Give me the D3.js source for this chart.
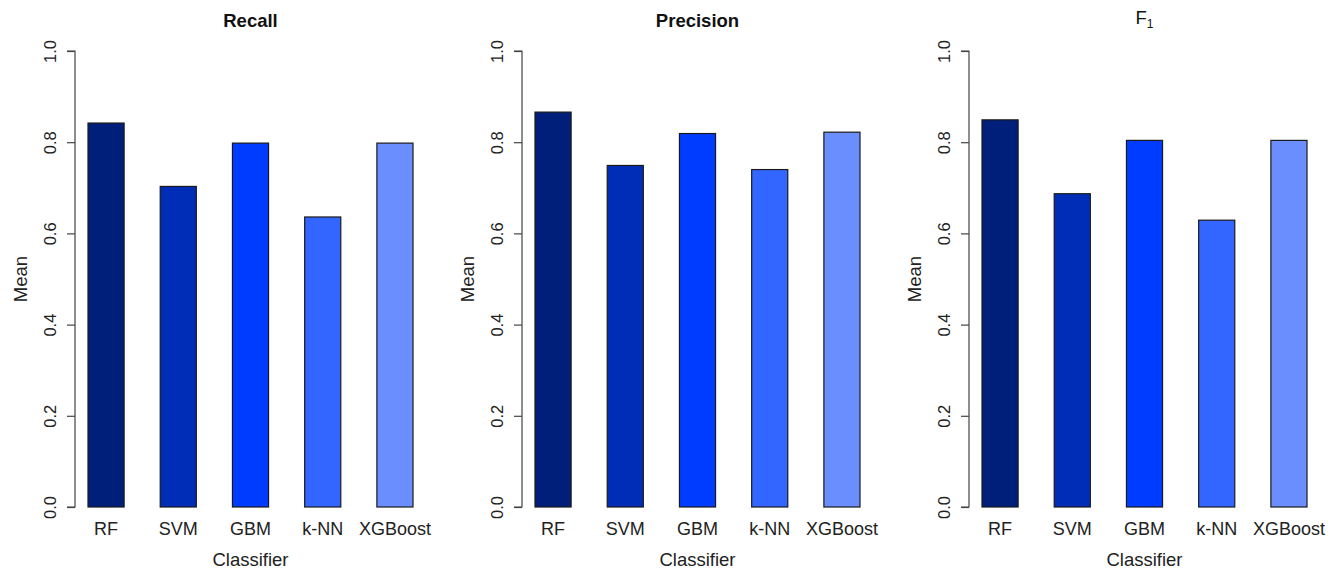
<!DOCTYPE html>
<html>
<head>
<meta charset="utf-8">
<script src="https://cdn.jsdelivr.net/npm/d3@7"></script>
<style>
  html, body { margin: 0; padding: 0; background: #fff; }
  svg { display: block; font-family: "Liberation Sans", Arial, sans-serif; }
</style>
</head>
<body>
<svg id="chart" width="1335" height="570"></svg>
<script>
// Mean scores per classifier for each metric
const classifiers = ["RF", "SVM", "GBM", "k-NN", "XGBoost"];
const recall    = [0.842, 0.703, 0.798, 0.636, 0.798];
const precision = [0.866, 0.749, 0.819, 0.740, 0.822];
const f1        = [0.849, 0.687, 0.804, 0.629, 0.804];
const yTicks    = [0.0, 0.2, 0.4, 0.6, 0.8, 1.0];
const barColors = ["#001f7a", "#002db8", "#003cff", "#3366ff", "#6b8eff"];

const panels = [
  { title: "Recall", bold: true, values: recall },
  { title: "Precision", bold: true, values: precision },
  { title: "F", sub: "1", bold: false, values: f1 }
];

const svg = d3.select("#chart");
const ink = "#222";

const y = d3.scaleLinear().domain([0, 1]).range([507, 51]);

panels.forEach((p, i) => {
  const left = 75 + i * 447;
  const right = left + 351;
  const g = svg.append("g");

  const x = d3.scaleBand()
    .domain(classifiers)
    .range([left, right])
    .paddingInner(0.5)
    .paddingOuter(0.18);

  // bars
  g.selectAll("rect")
    .data(p.values)
    .enter().append("rect")
    .attr("x", (d, j) => x(classifiers[j]))
    .attr("y", d => y(d))
    .attr("width", x.bandwidth())
    .attr("height", d => y(0) - y(d))
    .attr("fill", (d, j) => barColors[j])
    .attr("stroke", "#1a1a1a")
    .attr("stroke-width", 1.2);

  // y axis
  const yAxis = d3.axisLeft(y).tickValues(yTicks).tickFormat(d3.format(".1f")).tickSize(8).tickPadding(0);
  const ax = g.append("g").attr("transform", `translate(${left},0)`).call(yAxis);
  ax.select(".domain").attr("stroke", "#444").attr("d", `M-8,${y(0)}H0V${y(1)}H-8`).attr("stroke-width", 1.2);
  ax.selectAll(".tick line").attr("stroke", "#444").attr("stroke-width", 1.2);
  ax.selectAll(".tick text")
    .attr("x", null).attr("dy", null)
    .attr("transform", "translate(-25,0) rotate(-90)")
    .attr("text-anchor", "middle")
    .attr("dy", "0.35em")
    .attr("fill", ink)
    .style("font-size", "16.5px")
    .style("font-family", "'Liberation Sans', Arial, sans-serif");

  // category labels
  g.selectAll("text.cat")
    .data(classifiers)
    .enter().append("text")
    .attr("class", "cat")
    .attr("x", d => x(d) + x.bandwidth() / 2)
    .attr("y", 535)
    .attr("text-anchor", "middle")
    .attr("fill", ink)
    .style("font-size", "18px")
    .text(d => d);

  const cx = (left + right) / 2;

  // axis titles
  g.append("text")
    .attr("x", cx).attr("y", 566)
    .attr("text-anchor", "middle")
    .attr("fill", ink)
    .style("font-size", "18.5px")
    .text("Classifier");

  g.append("text")
    .attr("transform", `translate(${left - 48},${(y(0) + y(1)) / 2}) rotate(-90)`)
    .attr("text-anchor", "middle")
    .attr("fill", ink)
    .style("font-size", "18.5px")
    .text("Mean");

  // panel title
  const t = g.append("text")
    .attr("x", cx).attr("y", 27)
    .attr("text-anchor", "middle")
    .attr("fill", "#111")
    .style("font-size", "18.5px")
    .style("font-weight", p.bold ? "bold" : "normal");
  t.append("tspan").text(p.title);
  if (p.sub) {
    t.attr("y", 24);
    t.append("tspan").attr("dy", 4).style("font-size", "12px").text(p.sub);
  }
});
</script>
</body>
</html>
